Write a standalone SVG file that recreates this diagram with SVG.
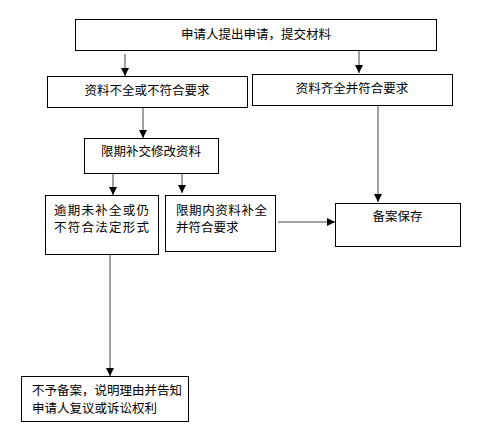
<svg xmlns="http://www.w3.org/2000/svg" width="492" height="432" viewBox="0 0 492 432">
<style>
.box{fill:#fff;stroke:#000;stroke-width:1}
.t{font-family:"Liberation Sans","Noto Sans CJK SC",sans-serif;font-size:12.5px;fill:#000}
.c{text-anchor:middle}
.ln{fill:none;stroke:#808080;stroke-width:1.5}
</style>
<defs>
<marker id="ah" markerUnits="userSpaceOnUse" markerWidth="8" markerHeight="8" refX="8" refY="4" orient="auto">
<path d="M0,0 L8,4 L0,8 Z" fill="#000"/>
</marker>
</defs>
<rect width="492" height="432" fill="#fff"/>
<g id="connectors">
<line class="ln" x1="125" y1="54" x2="125" y2="76" marker-end="url(#ah)"/>
<line class="ln" x1="359" y1="50" x2="359" y2="73" marker-end="url(#ah)"/>
<line class="ln" x1="143" y1="107" x2="143" y2="138" marker-end="url(#ah)"/>
<line class="ln" x1="378" y1="105" x2="378" y2="202" marker-end="url(#ah)"/>
<line class="ln" x1="113" y1="174" x2="113" y2="195" marker-end="url(#ah)"/>
<line class="ln" x1="182" y1="174" x2="182" y2="193" marker-end="url(#ah)"/>
<line class="ln" x1="278" y1="222" x2="335" y2="222" marker-end="url(#ah)"/>
<line class="ln" x1="110" y1="254" x2="110" y2="376" marker-end="url(#ah)"/>
</g>
<g id="n1">
<rect class="box" x="75.5" y="19.5" width="361" height="31"/>
<text class="t c" x="256" y="38.5">申请人提出申请，提交材料</text>
</g>
<g id="n2">
<rect class="box" x="47.5" y="76.5" width="200" height="31"/>
<text class="t c" x="147" y="95">资料不全或不符合要求</text>
</g>
<g id="n3">
<rect class="box" x="252.5" y="74.5" width="200" height="31"/>
<text class="t c" x="352" y="93">资料齐全并符合要求</text>
</g>
<g id="n4">
<rect class="box" x="84.5" y="138.5" width="134" height="35"/>
<text class="t c" x="151" y="156">限期补交修改资料</text>
</g>
<g id="n5">
<rect class="box" x="45.5" y="195.5" width="113" height="59"/>
<text class="t" x="54" y="215" textLength="95" lengthAdjust="spacing">逾期未补全或仍</text>
<text class="t" x="54" y="232" textLength="95" lengthAdjust="spacing">不符合法定形式</text>
</g>
<g id="n6">
<rect class="box" x="165.5" y="195.5" width="110" height="56"/>
<text class="t" x="176" y="215" textLength="91" lengthAdjust="spacing">限期内资料补全</text>
<text class="t" x="176" y="232">并符合要求</text>
</g>
<g id="n7">
<rect class="box" x="335.5" y="203.5" width="125" height="43"/>
<text class="t c" x="397.5" y="221">备案保存</text>
</g>
<g id="n8">
<rect class="box" x="21.5" y="376.5" width="167" height="45"/>
<text class="t" x="32" y="395">不予备案，说明理由并告知</text>
<text class="t" x="32" y="413">申请人复议或诉讼权利</text>
</g>
</svg>
